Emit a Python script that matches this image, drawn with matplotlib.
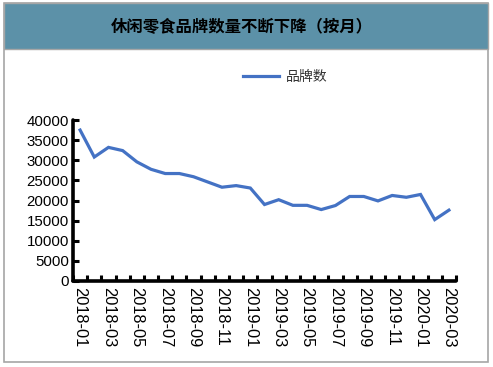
import matplotlib
matplotlib.use("Agg")
import matplotlib.pyplot as plt
from matplotlib.patches import Rectangle
import numpy as np

plt.rcParams['font.family'] = ['Liberation Sans', 'Noto Sans CJK SC', 'DejaVu Sans']

title = "休闲零食品牌数量不断下降（按月）"
series_name = "品牌数"
months = ["2018-01", "2018-02", "2018-03", "2018-04", "2018-05", "2018-06", "2018-07",
          "2018-08", "2018-09", "2018-10", "2018-11", "2018-12", "2019-01", "2019-02",
          "2019-03", "2019-04", "2019-05", "2019-06", "2019-07", "2019-08", "2019-09",
          "2019-10", "2019-11", "2019-12", "2020-01", "2020-02", "2020-03"]
values = [37500, 30800, 33200, 32400, 29600, 27750, 26700, 26700, 25900, 24600,
          23300, 23700, 23100, 19000, 20200, 18800, 18800, 17750, 18750, 21000,
          21000, 19900, 21250, 20800, 21500, 15250, 17600]
y_ticks = [0, 5000, 10000, 15000, 20000, 25000, 30000, 35000, 40000]

W, H = 493, 367
fig = plt.figure(figsize=(W / 100, H / 100), dpi=100)
fig.patch.set_facecolor("white")

# outer border and header band
fig.patches.append(Rectangle((4 / W, (H - 362) / H), 484 / W, 359 / H, transform=fig.transFigure,
                             facecolor="white", edgecolor="#A6A6A6", linewidth=1.2, zorder=-2))
fig.patches.append(Rectangle((4 / W, (H - 49) / H), 484 / W, 46 / H, transform=fig.transFigure,
                             facecolor="#5C91A8", edgecolor="#A6A6A6", linewidth=1.0, zorder=-1))
fig.text(242 / W, (H - 27) / H, title, ha="center", va="center", fontsize=11.8,
         fontweight="bold", color="black", family=['Noto Sans CJK SC', 'DejaVu Sans'])

ax = fig.add_axes([73 / W, (H - 281) / H, (456 - 73) / W, (281 - 120) / H])
ax.set_zorder(5)
ax.patch.set_alpha(0)
x = np.arange(len(months))
ax.plot(x, values, color="#4472C4", linewidth=2.3, label=series_name, solid_joinstyle="miter")

ax.set_xlim(-0.5, len(months) - 0.5)
ax.set_ylim(0, 40000)
ax.set_yticks(y_ticks)
ax.set_yticklabels([str(v) for v in y_ticks], fontsize=10.8)
ax.set_xticks(x[::2])
ax.set_xticklabels(months[::2], rotation=270, fontsize=11.8, va="top", ha="center")
ax.set_xticks(np.arange(-0.5, len(months), 1), minor=True)
ax.tick_params(axis="x", which="major", length=0, pad=4)
ax.tick_params(axis="x", which="minor", direction="in", length=4, width=2.2)
ax.tick_params(axis="y", direction="in", length=4, width=2.2, pad=3)
for s in ["top", "right"]:
    ax.spines[s].set_visible(False)
for s in ["left", "bottom"]:
    ax.spines[s].set_linewidth(2.6)
    ax.spines[s].set_capstyle("round")

leg = fig.legend(loc="center", bbox_to_anchor=(285 / W, (H - 77) / H), frameon=False,
                 prop={"family": ['Noto Sans CJK SC', 'DejaVu Sans'], "size": 10},
                 handlelength=2.6, handletextpad=0.5)
leg.set_zorder(6)
for t in leg.get_texts():
    t.set_color("#333333")

fig.savefig("out.png", dpi=100)
